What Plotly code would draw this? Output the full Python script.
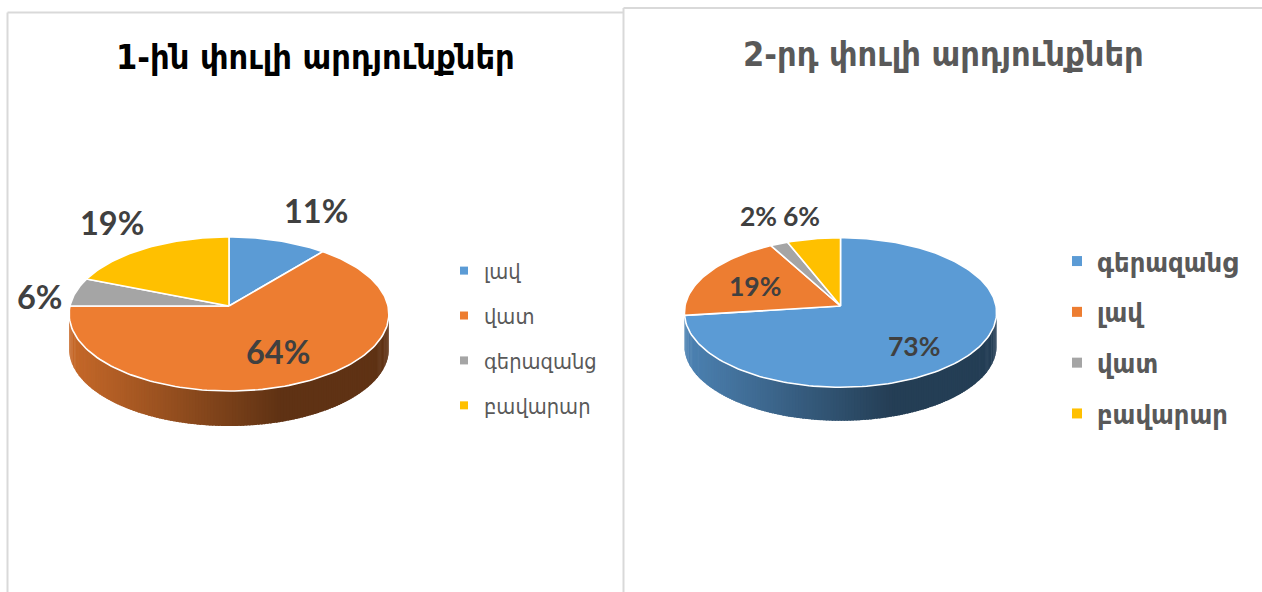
import math
import plotly.graph_objects as go

W, H = 1262, 592

# ---------- data ----------
titles = ["1-ին փուլի արդյունքներ", "2-րդ փուլի արդյունքներ"]
categories_1 = ["լավ", "վատ", "գերազանց", "բավարար"]
values_1 = [11, 64, 6, 19]
categories_2 = ["գերազանց", "լավ", "վատ", "բավարար"]
values_2 = [73, 19, 2, 6]

# ---------- style / layout ----------
COLORS = ["#5B9BD5", "#ED7D31", "#A5A5A5", "#FFC000"]
LABEL_FONT = "Lato, 'Open Sans', sans-serif"
ARM_FONT = "'DejaVu Sans Condensed', 'DejaVu Sans', sans-serif"
GRID = "#D9D9D9"

PIES = [
    dict(cx=229, cy=306, b=159, a=76.2, k=0.104, depth=35, box=(10, 620, 100, 500), label_size=32.5,
         shifts=[(38, -30), (-26, -31), (-36, 5), (-35, -25)]),
    dict(cx=840.5, cy=306, b=155.5, a=74.2, k=0.087, depth=33.5, box=(626, 1060, 100, 500), label_size=26.5,
         shifts=[(-50, -12), (48, 12), (-21, -28), (-12, -23)]),
]
LEG = [dict(marker=8, size=21.7, weight=400, x=444, y=250, gap=13.7),
       dict(marker=10, size=27, weight=700, x=1057, y=237, gap=12.7)]


def hexrgb(c):
    return tuple(int(c[i:i + 2], 16) for i in (1, 3, 5))


def project(p, theta):
    """Perspective projection of a rim point of the unit pie, in pixels relative to the apex."""
    u, v = math.sin(theta), math.cos(theta)
    w = 1 + p["k"] * v
    return p["b"] * u / w, p["a"] * v / w


fig = go.Figure()
annotations = []


def draw_pie(idx, p, cats, vals, axis_suffix, legend_name):
    x0, x1, y0, y1 = p["box"]
    fig.update_layout({
        "xaxis" + axis_suffix: dict(domain=[x0 / W, x1 / W], range=[x0 - p["cx"], x1 - p["cx"]],
                                    visible=False, fixedrange=True),
        "yaxis" + axis_suffix: dict(domain=[1 - y1 / H, 1 - y0 / H], range=[p["cy"] - y1, p["cy"] - y0],
                                    visible=False, fixedrange=True),
    })
    xref, yref = "x" + axis_suffix, "y" + axis_suffix
    total = sum(vals)
    vis_start = math.acos(-p["k"])
    vis_end = 2 * math.pi - vis_start
    left, right = -p["b"] * 1.005, p["b"] * 1.005

    # side wall (drawn first, under the top face)
    start = 0.0
    for i, v in enumerate(vals):
        end = start + v / total * 2 * math.pi
        lo, hi = max(start, vis_start), min(end, vis_end)
        if hi - lo > math.radians(3):
            n = int((hi - lo) / math.radians(1.0))
            base = hexrgb(COLORS[i])
            for s in range(n):
                t0 = lo + (hi - lo) * s / n
                t1 = lo + (hi - lo) * (s + 1.6) / n if s < n - 1 else hi
                pts = [project(p, t0 + (t1 - t0) * j / 3) for j in range(4)]
                xs = [q[0] for q in pts] + [q[0] for q in reversed(pts)] + [pts[0][0]]
                ys = [q[1] for q in pts] + [q[1] - p["depth"] for q in reversed(pts)] + [pts[0][1]]
                xm = project(p, (t0 + t1) / 2)[0]
                f = min(1.0, (xm - left) / (right - left) / 0.66)
                shade = 0.84 + (0.40 - 0.84) * f
                col = "rgb(%d,%d,%d)" % tuple(round(ch * shade) for ch in base)
                fig.add_trace(go.Scatter(x=xs, y=ys, mode="lines", fill="toself", fillcolor=col,
                                         line=dict(color=col, width=0), hoverinfo="skip",
                                         showlegend=False, legendgroup=f"{legend_name}-{i}",
                                         legend=legend_name, xaxis=xref, yaxis=yref))
        start = end

    # top face
    start = 0.0
    for i, v in enumerate(vals):
        end = start + v / total * 2 * math.pi
        n = max(4, int((end - start) / math.radians(1.5)))
        rim = [project(p, start + (end - start) * j / n) for j in range(n + 1)]
        xs = [0] + [q[0] for q in rim] + [0]
        ys = [0] + [q[1] for q in rim] + [0]
        fig.add_trace(go.Scatter(x=xs, y=ys, mode="lines", fill="toself", fillcolor=COLORS[i],
                                 line=dict(color="white", width=1.6), name=cats[i],
                                 hovertemplate=f"{cats[i]}: {v}%<extra></extra>",
                                 showlegend=False, legendgroup=f"{legend_name}-{i}",
                                 legend=legend_name, xaxis=xref, yaxis=yref))
        # data label anchored on the rim at the slice's mid-angle
        mx, my = project(p, (start + end) / 2)
        sx, sy = p["shifts"][i]
        annotations.append(dict(x=mx, y=my, xref=xref, yref=yref, text=f"{v}%", showarrow=False,
                                xshift=sx, yshift=-sy, xanchor="center", yanchor="middle",
                                font=dict(family=LABEL_FONT, size=p["label_size"], color="#404040", weight=700)))
        start = end

    # legend keys
    for i, c in enumerate(cats):
        fig.add_trace(go.Scatter(x=[None], y=[None], mode="markers", name=c,
                                 marker=dict(symbol="square", size=LEG[idx]["marker"], color=COLORS[i]),
                                 legend=legend_name, legendgroup=f"{legend_name}-{i}",
                                 xaxis=xref, yaxis=yref))


draw_pie(0, PIES[0], categories_1, values_1, "", "legend")
draw_pie(1, PIES[1], categories_2, values_2, "2", "legend2")

annotations.append(dict(x=315.5 / W, y=1 - 57 / H, xref="paper", yref="paper", text=titles[0], showarrow=False,
                        xanchor="center", yanchor="middle",
                        font=dict(family=ARM_FONT, size=34, color="#000000", weight=700)))
annotations.append(dict(x=944 / W, y=1 - 54 / H, xref="paper", yref="paper", text=titles[1], showarrow=False,
                        xanchor="center", yanchor="middle",
                        font=dict(family=ARM_FONT, size=34, color="#595959", weight=700)))


def leg(l):
    return dict(x=l["x"] / W, y=1 - l["y"] / H, xanchor="left", yanchor="top",
                bgcolor="rgba(0,0,0,0)", tracegroupgap=l["gap"], itemclick=False, itemdoubleclick=False,
                font=dict(family=ARM_FONT, size=l["size"], color="#595959", weight=l["weight"]))


def px_line(x0, y0, x1, y1):
    return dict(type="line", xref="paper", yref="paper", x0=x0 / W, y0=1 - y0 / H, x1=x1 / W, y1=1 - y1 / H,
                line=dict(color=GRID, width=2), layer="below")


fig.update_layout(
    width=W, height=H, margin=dict(l=0, r=0, t=0, b=0), autosize=False,
    paper_bgcolor="white", plot_bgcolor="rgba(0,0,0,0)",
    annotations=annotations,
    showlegend=True, legend=leg(LEG[0]), legend2=leg(LEG[1]),
    shapes=[
        px_line(7.5, 12.5, 7.5, 592), px_line(7.5, 12.5, 623, 12.5),
        px_line(623.5, 8, 623.5, 592), px_line(623.5, 8, 1262, 8),
    ],
)
fig.write_html("out.html", config={"displayModeBar": False},
               post_script="document.body.style.margin='0';document.documentElement.style.overflow='hidden';")
